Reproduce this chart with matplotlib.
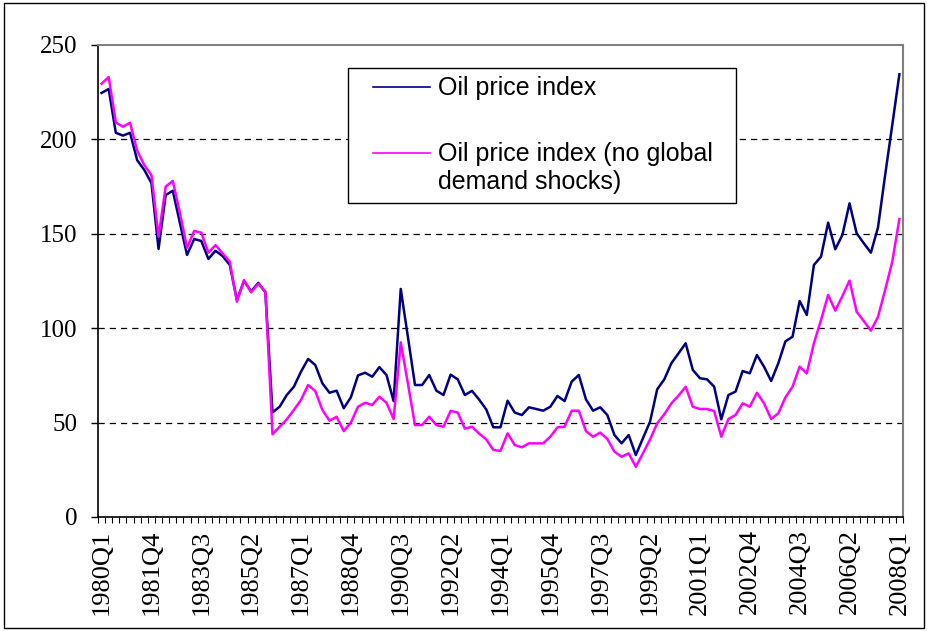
import numpy as np
import matplotlib
matplotlib.use("Agg")
import matplotlib.pyplot as plt
from matplotlib.patches import Rectangle

# quarterly categories 1980Q1 .. 2008Q1
quarters = [f"{y}Q{q}" for y in range(1980, 2009) for q in range(1, 5)][:113]

oil_index = [
    224.6, 226.7, 203.5, 202.0, 203.5, 189.0, 183.8, 176.9, 142.0, 170.5,
    172.8, 155.7, 138.8, 147.2, 146.2, 136.7, 141.0, 138.2, 133.5, 115.0,
    125.0, 119.5, 124.0, 119.0, 55.4, 58.4, 64.6, 69.0, 77.0, 83.7,
    80.5, 70.8, 65.8, 66.9, 57.6, 63.4, 75.0, 76.4, 74.3, 79.4,
    75.2, 61.4, 120.8, 95.5, 69.9, 69.9, 75.2, 66.9, 64.6, 75.4,
    72.9, 64.6, 66.8, 62.2, 57.0, 47.5, 47.5, 61.6, 55.3, 54.0,
    58.1, 57.2, 56.3, 58.4, 64.1, 61.4, 71.7, 75.2, 62.3, 56.3,
    58.1, 54.0, 43.4, 39.0, 43.4, 32.8, 41.7, 50.5, 67.6, 72.9,
    81.5, 86.7, 92.0, 77.9, 73.5, 72.9, 69.0, 51.7, 64.6, 66.4,
    77.3, 76.1, 85.8, 79.6, 72.0, 81.4, 93.0, 95.5, 114.4, 107.0,
    133.5, 137.9, 155.9, 141.8, 149.4, 166.1, 150.3, 145.0, 140.0, 153.4,
    181.1, 207.6, 234.5,
]

oil_index_no_demand = [
    229.5, 233.0, 209.0, 206.7, 208.8, 194.0, 186.4, 181.0, 148.5, 175.0,
    178.0, 161.0, 142.5, 151.5, 150.6, 140.0, 144.0, 139.6, 135.2, 114.0,
    125.5, 119.0, 123.5, 119.3, 43.8, 47.8, 51.7, 56.7, 62.0, 69.9,
    66.7, 56.7, 51.0, 53.1, 45.5, 50.0, 58.4, 60.5, 59.3, 63.7,
    60.5, 51.9, 92.5, 70.8, 48.7, 48.7, 53.1, 48.7, 47.8, 56.2,
    55.3, 46.8, 47.8, 44.2, 41.1, 35.5, 35.0, 44.3, 38.1, 36.9,
    39.0, 39.0, 39.0, 42.5, 47.5, 47.8, 56.3, 56.3, 45.5, 42.5,
    44.7, 41.3, 34.6, 31.9, 33.7, 26.6, 33.7, 41.1, 49.6, 54.4,
    60.2, 64.3, 69.0, 58.4, 57.2, 57.2, 56.1, 42.5, 51.9, 54.0,
    60.2, 58.4, 65.8, 60.2, 51.9, 54.9, 63.3, 69.0, 79.6, 76.1,
    92.0, 104.3, 117.6, 109.3, 117.0, 125.2, 108.7, 103.8, 98.7, 106.0,
    120.2, 135.2, 157.8,
]

series_labels = ["Oil price index", ["Oil price index (no global", "demand shocks)"]]
series_colors = ["#000080", "#FF00FF"]

y_ticks = [0, 50, 100, 150, 200, 250]
label_step = 7

fig = plt.figure(figsize=(9.28, 6.31), dpi=100)
ax = fig.add_axes([0.1056, 0.1807, 0.973 - 0.1056, 0.9287 - 0.1807])

x = np.arange(len(quarters))
ax.plot(x, oil_index, color=series_colors[0], lw=1.8)
ax.plot(x, oil_index_no_demand, color=series_colors[1], lw=1.8)

ax.set_xlim(-0.5, len(quarters) - 0.5)
ax.set_ylim(0, 250)

ax.set_yticks(y_ticks)
ax.set_yticklabels([str(v) for v in y_ticks], family="Liberation Serif", fontsize=18)
ax.tick_params(axis="y", direction="out", length=5, width=1, pad=10)

ax.set_xticks(x[::label_step])
ax.set_xticklabels(quarters[::label_step], rotation=90, family="Liberation Serif",
                   fontsize=19)
ax.set_xticks(np.arange(len(quarters) + 1) - 0.5, minor=True)
ax.tick_params(axis="x", which="major", length=0, pad=9)
ax.tick_params(axis="x", which="minor", direction="out", length=4, width=0.8)

for v in y_ticks[1:-1]:
    ax.axhline(v, color="black", lw=0.9, ls=(0, (5, 4)), zorder=0)

ax.spines["left"].set_color("black")
ax.spines["bottom"].set_color("black")
ax.spines["left"].set_linewidth(1.2)
ax.spines["bottom"].set_linewidth(1.2)
ax.spines["top"].set_color("#808080")
ax.spines["right"].set_color("#808080")
ax.spines["top"].set_linewidth(1.5)
ax.spines["right"].set_linewidth(1.5)

# legend box drawn by hand so the magenta key sits on the first text line
tr = ax.transAxes
ax.add_patch(Rectangle((0.3106, 0.6653), 0.4819, 0.2860, transform=tr, fill=True,
                       facecolor="white", edgecolor="black", lw=1.0, zorder=5))
leg_font = dict(family="Liberation Sans", fontsize=18, transform=tr, zorder=6,
                va="baseline", ha="left")
ax.plot([0.3416, 0.4124], [0.9110, 0.9110], color=series_colors[0], lw=1.2,
        transform=tr, zorder=6)
ax.text(0.4223, 0.8941, series_labels[0], **leg_font)
ax.plot([0.3416, 0.4124], [0.7712, 0.7712], color=series_colors[1], lw=1.2,
        transform=tr, zorder=6)
ax.text(0.4223, 0.7543, series_labels[1][0], **leg_font)
ax.text(0.4223, 0.6950, series_labels[1][1], **leg_font)

fig.patches.append(Rectangle((0.004, 0.004), 0.992, 0.992, transform=fig.transFigure,
                             fill=False, edgecolor="black", lw=1.0))

fig.savefig("out.png", dpi=100)
